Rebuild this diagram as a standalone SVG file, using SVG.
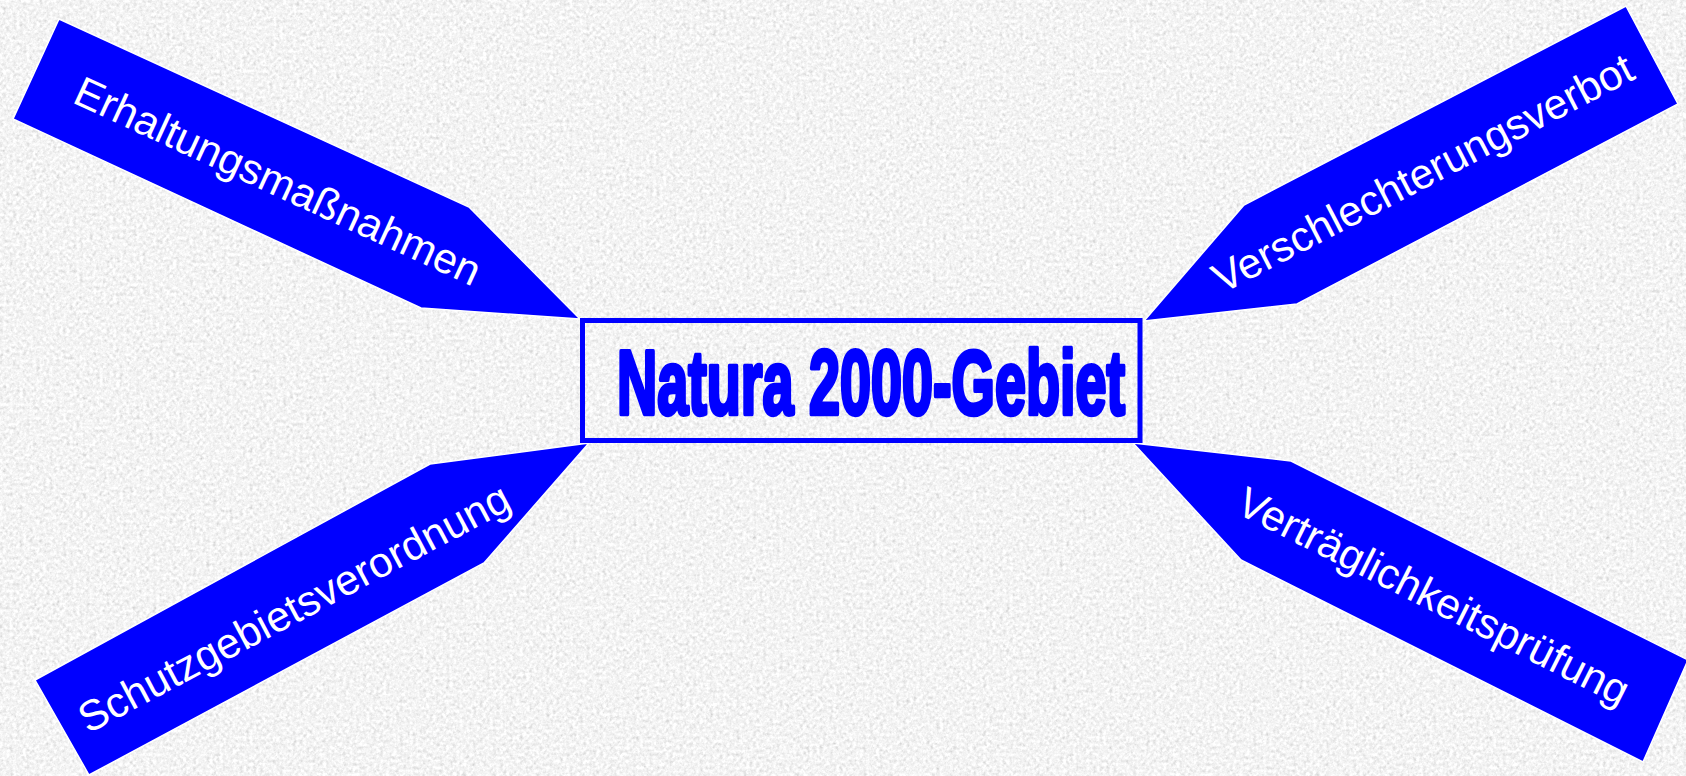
<svg xmlns="http://www.w3.org/2000/svg" width="1686" height="776" viewBox="0 0 1686 776">
  <defs>
    <filter id="granite" x="0" y="0" width="1686" height="776" filterUnits="userSpaceOnUse">
      <feTurbulence type="fractalNoise" baseFrequency="0.3" numOctaves="4" seed="7" result="n"/>
      <feColorMatrix in="n" type="matrix" values="0.3 0.3 0.3 0 0.45  0.3 0.3 0.3 0 0.45  0.3 0.3 0.3 0 0.45  0 0 0 0 1"/>
    </filter>
    <style>
      .arrow { fill: #0000ff; stroke: #ffffff; stroke-width: 1.5; stroke-linejoin: miter; }
      .label { font-family: "Liberation Sans", Arial, sans-serif; font-size: 42.5px; fill: #ffffff; }
      .box { fill: none; stroke: #0000ff; stroke-width: 5; }
      .title { font-family: "Liberation Sans", Arial, sans-serif; font-weight: bold; font-size: 91px; fill: #0000ff; stroke: #0000ff; stroke-width: 4.5; stroke-linejoin: round; }
    </style>
  </defs>

  <rect x="0" y="0" width="1686" height="776" fill="#e6e6e6" filter="url(#granite)"/>

  <g id="node-erhaltungsmassnahmen">
    <polygon class="arrow" points="59,19 469,207 580,319 421,308 13,119"/>
    <text class="label" transform="translate(71,102) rotate(24.7)" x="0" y="0">Erhaltungsmaßnahmen</text>
  </g>

  <g id="node-verschlechterungsverbot">
    <polygon class="arrow" points="1626,6 1678,104 1297,304 1144,321 1244,205"/>
    <text class="label" transform="translate(1222,294) rotate(-27.5)" x="0" y="0">Verschlechterungsverbot</text>
  </g>

  <g id="node-schutzgebietsverordnung">
    <polygon class="arrow" points="35,680 430,464 589,443 484,563 89,775"/>
    <text class="label" transform="translate(88,734) rotate(-28)" x="0" y="0">Schutzgebietsverordnung</text>
  </g>

  <g id="node-vertraeglichkeitspruefung">
    <polygon class="arrow" points="1133,443 1291,461 1688,660 1643,762 1241,560"/>
    <text class="label" transform="translate(1234,512) rotate(26.7)" x="0" y="0">Verträglichkeitsprüfung</text>
  </g>

  <g id="node-natura2000">
    <rect class="box" x="582.5" y="320.5" width="557.5" height="120"/>
    <text class="title" x="617" y="414" textLength="508" lengthAdjust="spacingAndGlyphs">Natura 2000-Gebiet</text>
  </g>
</svg>
